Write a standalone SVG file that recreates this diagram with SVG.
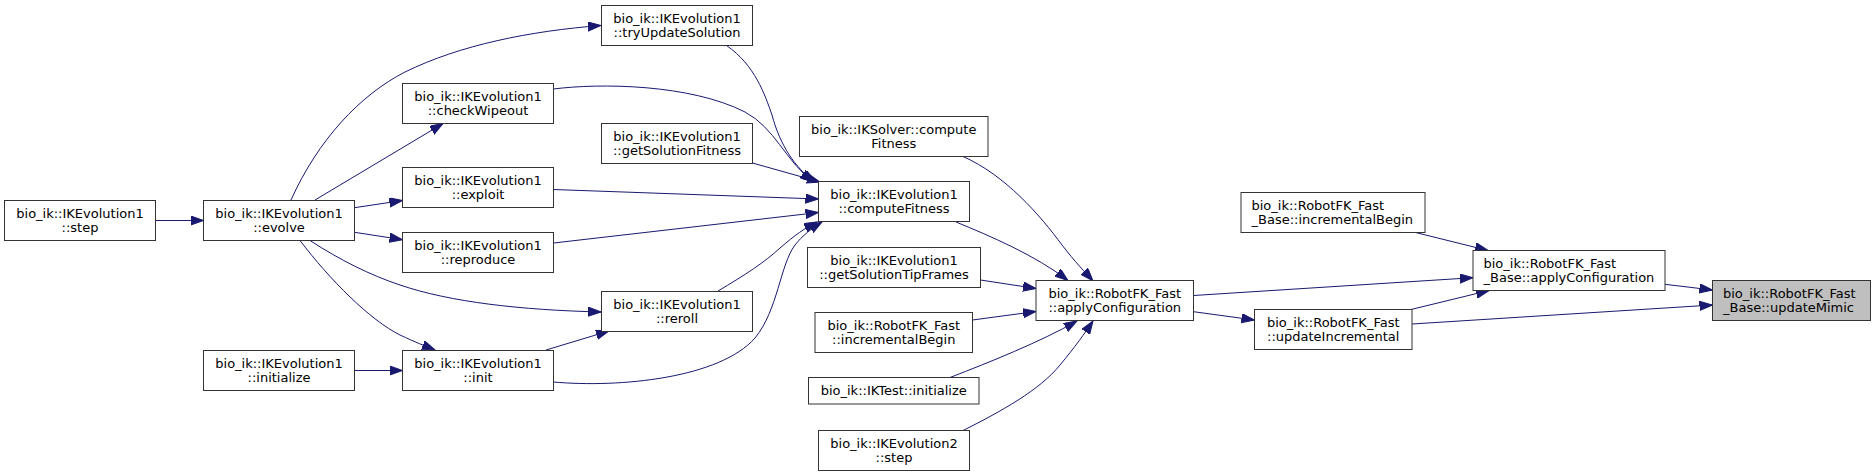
<svg xmlns="http://www.w3.org/2000/svg" width="1876" height="476" viewBox="0 0 1876 476">
<defs>
<style>
.n rect{fill:#ffffff;stroke:#333333;stroke-width:1}
.n.root rect{fill:#bfbfbf}
.n text{font-family:"DejaVu Sans",sans-serif;font-size:13px;fill:#000000}
.c{text-anchor:middle}
.e path{fill:none;stroke:#191970;stroke-width:1;marker-end:url(#ah)}
</style>
<marker id="ah" markerUnits="userSpaceOnUse" markerWidth="14" markerHeight="10" refX="13" refY="4.65" orient="auto">
<path d="M0,0 L13,4.65 L0,9.3 z" fill="#191970" stroke="#191970" stroke-width="1"/>
</marker>
</defs>
<rect x="0" y="0" width="1876" height="476" fill="#ffffff"/>
<g id="edges" class="e">
<path d="M156,220.5 L203.5,220.5"/>
<path d="M291,200 C318,140 360,95 405,72 C460,45 530,31 601,25.5"/>
<path d="M315,200 L443,123.5"/>
<path d="M354.5,207.7 L402.5,200.5"/>
<path d="M354.5,232.3 L402.5,239.7"/>
<path d="M310,240.5 C340,260 370,275 400,285 C450,302 520,310 601,312"/>
<path d="M300,240.5 C330,280 370,320 400,335 C415,342 425,346 435,350"/>
<path d="M354.5,370.5 L402.5,370.5"/>
<path d="M546,350 L609,331"/>
<path d="M553.5,382 C620,388 720,378 755,338 C778,310 780,265 795,245 C802,236 812,228 822,222"/>
<path d="M718,291 C745,275 765,262 780,248 C795,235 805,228 817,222"/>
<path d="M726.5,45.5 C755,65 765,95 772,115 C780,145 795,168 815,182"/>
<path d="M553.5,89 C600,83 690,84 745,112 C775,128 785,160 813,182"/>
<path d="M752.5,163 L820,182"/>
<path d="M553.5,189.5 L818.5,199"/>
<path d="M553.5,243 L818.5,212.5"/>
<path d="M963,156.5 C1005,175 1040,215 1062,245 C1075,262 1085,272 1093,281"/>
<path d="M956,222 C990,236 1035,255 1068,280.5"/>
<path d="M980.5,280 L1036,288.5"/>
<path d="M972.5,320 L1036,311.5"/>
<path d="M950,377.5 C990,362 1040,342 1077,321"/>
<path d="M963,430.5 C1000,412 1040,390 1060,365 C1075,347 1085,333 1093,321"/>
<path d="M1193.5,295.5 L1473,277.7"/>
<path d="M1193.5,311.7 L1254.5,320"/>
<path d="M1415.6,232.5 L1488,250.5"/>
<path d="M1411,309.5 L1489,290.5"/>
<path d="M1665,284.3 L1712.5,290"/>
<path d="M1412,324 L1712.5,305"/>
</g>
<g id="n_step1" class="n"><rect x="4.5" y="200.5" width="151" height="40"/><text class="c" x="80" y="217.5">bio_ik::IKEvolution1</text><text class="c" x="80" y="231.5">::step</text></g>
<g id="n_evolve" class="n"><rect x="203.5" y="200.5" width="151" height="40"/><text class="c" x="279" y="217.5">bio_ik::IKEvolution1</text><text class="c" x="279" y="231.5">::evolve</text></g>
<g id="n_checkWipeout" class="n"><rect x="402.5" y="83.5" width="151" height="40"/><text class="c" x="478" y="100.5">bio_ik::IKEvolution1</text><text class="c" x="478" y="114.5">::checkWipeout</text></g>
<g id="n_exploit" class="n"><rect x="402.5" y="167.5" width="151" height="40"/><text class="c" x="478" y="184.5">bio_ik::IKEvolution1</text><text class="c" x="478" y="198.5">::exploit</text></g>
<g id="n_reproduce" class="n"><rect x="402.5" y="232.5" width="151" height="40"/><text class="c" x="478" y="249.5">bio_ik::IKEvolution1</text><text class="c" x="478" y="263.5">::reproduce</text></g>
<g id="n_initialize1" class="n"><rect x="203.5" y="350.5" width="151" height="40"/><text class="c" x="279" y="367.5">bio_ik::IKEvolution1</text><text class="c" x="279" y="381.5">::initialize</text></g>
<g id="n_init" class="n"><rect x="402.5" y="350.5" width="151" height="40"/><text class="c" x="478" y="367.5">bio_ik::IKEvolution1</text><text class="c" x="478" y="381.5">::init</text></g>
<g id="n_tryUpdateSolution" class="n"><rect x="601.5" y="5.5" width="151" height="40"/><text class="c" x="677" y="22.5">bio_ik::IKEvolution1</text><text class="c" x="677" y="36.5">::tryUpdateSolution</text></g>
<g id="n_getSolutionFitness" class="n"><rect x="601.5" y="123.5" width="151" height="40"/><text class="c" x="677" y="140.5">bio_ik::IKEvolution1</text><text class="c" x="677" y="154.5">::getSolutionFitness</text></g>
<g id="n_reroll" class="n"><rect x="601.5" y="291.5" width="151" height="40"/><text class="c" x="677" y="308.5">bio_ik::IKEvolution1</text><text class="c" x="677" y="322.5">::reroll</text></g>
<g id="n_solverComputeFitness" class="n"><rect x="799.5" y="116.5" width="188.5" height="40"/><text class="c" x="893.75" y="133.5">bio_ik::IKSolver::compute</text><text class="c" x="893.75" y="147.5">Fitness</text></g>
<g id="n_computeFitness" class="n"><rect x="818.5" y="181.5" width="151" height="40"/><text class="c" x="894" y="198.5">bio_ik::IKEvolution1</text><text class="c" x="894" y="212.5">::computeFitness</text></g>
<g id="n_getSolutionTipFrames" class="n"><rect x="807.5" y="247.5" width="173" height="40"/><text class="c" x="894" y="264.5">bio_ik::IKEvolution1</text><text class="c" x="894" y="278.5">::getSolutionTipFrames</text></g>
<g id="n_fastIncrementalBegin" class="n"><rect x="815" y="312.5" width="157.5" height="40"/><text class="c" x="893.75" y="329.5">bio_ik::RobotFK_Fast</text><text class="c" x="893.75" y="343.5">::incrementalBegin</text></g>
<g id="n_iktestInitialize" class="n"><rect x="808.5" y="377.5" width="170.5" height="26.5"/><text class="c" x="893.75" y="395">bio_ik::IKTest::initialize</text></g>
<g id="n_evolution2Step" class="n"><rect x="818.5" y="430.5" width="151" height="40"/><text class="c" x="894" y="447.5">bio_ik::IKEvolution2</text><text class="c" x="894" y="461.5">::step</text></g>
<g id="n_fastApplyConfiguration" class="n"><rect x="1036" y="280.5" width="157.5" height="40"/><text class="c" x="1114.75" y="297.5">bio_ik::RobotFK_Fast</text><text class="c" x="1114.75" y="311.5">::applyConfiguration</text></g>
<g id="n_baseIncrementalBegin" class="n"><rect x="1241" y="192.5" width="184" height="40"/><text x="1251.5" y="209.5">bio_ik::RobotFK_Fast</text><text x="1251.5" y="223.5">_Base::incrementalBegin</text></g>
<g id="n_baseApplyConfiguration" class="n"><rect x="1473" y="250.5" width="192" height="40"/><text x="1483.5" y="267.5">bio_ik::RobotFK_Fast</text><text x="1483.5" y="281.5">_Base::applyConfiguration</text></g>
<g id="n_updateIncremental" class="n"><rect x="1254.5" y="309.5" width="157.5" height="40"/><text class="c" x="1333.25" y="326.5">bio_ik::RobotFK_Fast</text><text class="c" x="1333.25" y="340.5">::updateIncremental</text></g>
<g id="n_updateMimic" class="n root"><rect x="1712.5" y="280.5" width="158" height="40"/><text x="1723" y="297.5">bio_ik::RobotFK_Fast</text><text x="1723" y="311.5">_Base::updateMimic</text></g>
</svg>
